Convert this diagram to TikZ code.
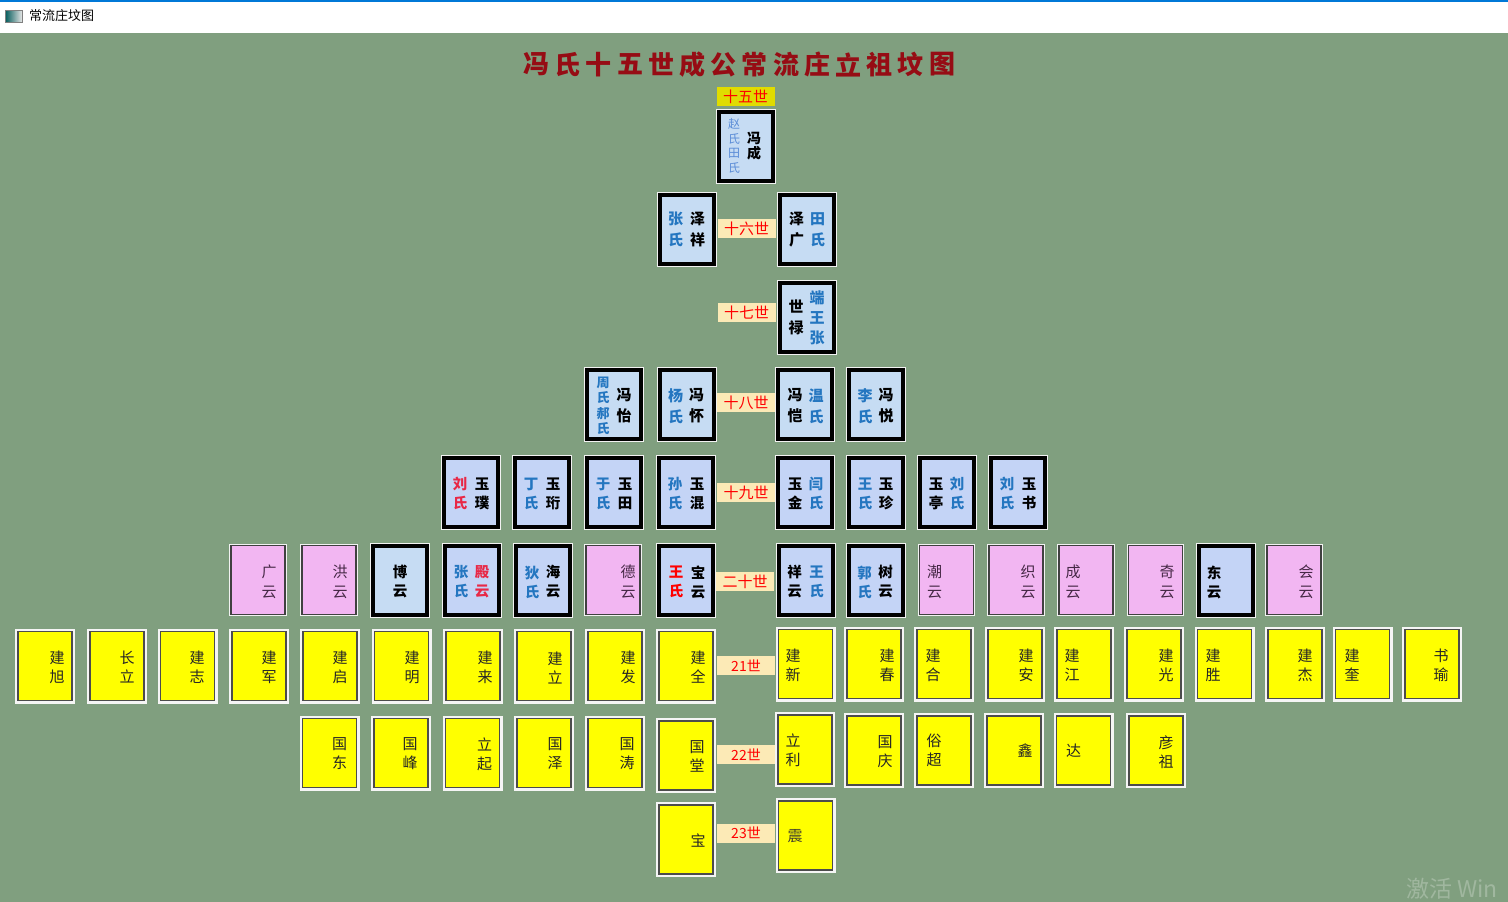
\documentclass[tikz,border=0pt]{standalone}
\usepackage{fontspec}
\newfontfamily\cjk{Noto Sans CJK SC}
\usetikzlibrary{calc}
\definecolor{bg}{RGB}{128,159,127}
\definecolor{barblue}{RGB}{0,120,215}
\definecolor{titlered}{RGB}{150,12,20}
\definecolor{lb}{RGB}{198,220,243}
\definecolor{lb2}{RGB}{196,212,246}
\definecolor{pinkbox}{RGB}{242,182,242}
\definecolor{ybox}{RGB}{255,255,0}
\definecolor{tan}{RGB}{252,234,182}
\definecolor{genyellow}{RGB}{224,220,0}
\definecolor{cblue}{RGB}{36,118,192}
\definecolor{cblue2}{RGB}{90,140,215}
\definecolor{cred}{RGB}{232,40,70}
\definecolor{pinktext}{RGB}{70,40,70}
\begin{document}
\begin{tikzpicture}[x=1pt,y=-1pt,
  box/.style={minimum width=54, minimum height=69, inner sep=0},
  bluebox/.style={box, fill=lb, draw=black, line width=4, preaction={draw=white!90!gray, line width=6}},
  bluebox2/.style={bluebox, fill=lb2},
  pbox/.style={box, fill=pinkbox, draw=black!75, line width=1.2, preaction={draw=white!90!gray, line width=3.5}},
  ybx/.style={box, fill=ybox, draw=black!70, line width=1.5, preaction={draw=white!92!gray, line width=6}},
  gen/.style={fill=tan, text=red, inner sep=0, minimum width=58, minimum height=19, font=\cjk\fontsize{15}{15}\selectfont},
  tb/.style={inner sep=0, align=center, font=\cjk\bfseries\fontsize{15}{21}\selectfont},
  tb19/.style={inner sep=0, align=center, font=\cjk\bfseries\fontsize{14.5}{19}\selectfont},
  tr/.style={inner sep=0, align=center, text=black!85, font=\cjk\fontsize{15}{19}\selectfont},
  tp/.style={inner sep=0, align=center, text=pinktext, font=\cjk\fontsize{15}{20}\selectfont},
  titlech/.style={inner sep=0, text=titlered, font=\cjk\bfseries\fontsize{26}{26}\selectfont}
]
\useasboundingbox (0,0) rectangle (1508,902);
% window
\fill[bg] (0,33) rectangle (1508,902);
\fill[white] (0,0) rectangle (1508,33);
\fill[barblue] (0,0) rectangle (1508,1.5);
\shade[left color=teal!70!black, right color=white!80!gray, draw=gray] (5,10) rectangle (22,22);
\node[anchor=west, inner sep=0, font=\cjk\fontsize{13}{13}\selectfont] (wtitle) at (29,16) {常流庄坟图};
% title
\foreach \c [count=\i from 0] in {冯,氏,十,五,世,成,公,常,流,庄,立,祖,坟,图}
  \node[titlech] (t\i) at (536.5+\i*31.2, 64.5) {\c};
% generation labels
\node[gen, fill=genyellow] (g15) at (745.5,96.5) {十五世};
\node[gen] (g16) at (746.5,228.5) {十六世};
\node[gen] (g17) at (746.5,312.5) {十七世};
\node[gen] (g18) at (746,402.5) {十八世};
\node[gen] (g19) at (746,492.5) {十九世};
\node[gen] (g20) at (745,581.5) {二十世};
\node[gen, font=\cjk\fontsize{14}{14}\selectfont] (g21) at (746,665.5) {21世};
\node[gen, font=\cjk\fontsize{14}{14}\selectfont] (g22) at (746,754.5) {22世};
\node[gen, font=\cjk\fontsize{14}{14}\selectfont] (g23) at (746,833) {23世};
% 15
\node[bluebox] (b15) at (746,146) {};
\node[inner sep=0, align=center, text=cblue2, font=\cjk\fontsize{12}{14.5}\selectfont] at ($(b15)+(-12,0)$) {赵\\氏\\田\\氏};
\node[inner sep=0, align=center, font=\cjk\bfseries\fontsize{14}{15}\selectfont] at ($(b15)+(8,0)$) {冯\\成};
% 16
\node[bluebox] (b16a) at (686.5,229.5) {};
\node[tb, text=cblue] at ($(b16a)+(-11,0)$) {张\\氏};
\node[tb] at ($(b16a)+(11,0)$) {泽\\祥};
\node[bluebox] (b16b) at (806.5,229.5) {};
\node[tb] at ($(b16b)+(-10,0)$) {泽\\广};
\node[tb, text=cblue] at ($(b16b)+(11,0)$) {田\\氏};
% 17
\node[bluebox] (b17) at (806.5,317.5) {};
\node[tb] at ($(b17)+(-10.5,0)$) {世\\禄};
\node[tb, text=cblue, font=\cjk\bfseries\fontsize{15}{20}\selectfont] at ($(b17)+(10.5,0)$) {端\\王\\张};
% 18
\node[bluebox] (b18a) at (614,404) {};
\node[inner sep=0, align=center, text=cblue, font=\cjk\bfseries\fontsize{13}{15.5}\selectfont] at ($(b18a)+(-11,2)$) {周\\氏\\郝\\氏};
\node[tb] at ($(b18a)+(10,2)$) {冯\\怡};
\node[bluebox] (b18b) at (686.5,404) {};
\node[tb, text=cblue] at ($(b18b)+(-11,2)$) {杨\\氏};
\node[tb] at ($(b18b)+(10,2)$) {冯\\怀};
\node[bluebox] (b18c) at (805,404) {};
\node[tb] at ($(b18c)+(-10,2)$) {冯\\恺};
\node[tb, text=cblue] at ($(b18c)+(11,2)$) {温\\氏};
\node[bluebox] (b18d) at (876,404) {};
\node[tb, text=cblue] at ($(b18d)+(-11,2)$) {李\\氏};
\node[tb] at ($(b18d)+(10,2)$) {冯\\悦};
% 19
\node[bluebox2] (b19a) at (471,492) {};
\node[tb19, text=cred] at ($(b19a)+(-11,1.5)$) {刘\\氏};
\node[tb19] at ($(b19a)+(11,1.5)$) {玉\\璞};
\node[bluebox2] (b19b) at (542,492) {};
\node[tb19, text=cblue] at ($(b19b)+(-11,1.5)$) {丁\\氏};
\node[tb19] at ($(b19b)+(11,1.5)$) {玉\\珩};
\node[bluebox2] (b19c) at (614,492) {};
\node[tb19, text=cblue] at ($(b19c)+(-11,1.5)$) {于\\氏};
\node[tb19] at ($(b19c)+(11,1.5)$) {玉\\田};
\node[bluebox2] (b19d) at (686,492) {};
\node[tb19, text=cblue] at ($(b19d)+(-11,1.5)$) {孙\\氏};
\node[tb19] at ($(b19d)+(11,1.5)$) {玉\\混};
\node[bluebox2] (b19e) at (805,492) {};
\node[tb19] at ($(b19e)+(-10,1.5)$) {玉\\金};
\node[tb19, text=cblue] at ($(b19e)+(11,1.5)$) {闫\\氏};
\node[bluebox2] (b19f) at (876,492) {};
\node[tb19, text=cblue] at ($(b19f)+(-11,1.5)$) {王\\氏};
\node[tb19] at ($(b19f)+(10,1.5)$) {玉\\珍};
\node[bluebox2] (b19g) at (947,492) {};
\node[tb19] at ($(b19g)+(-11,1.5)$) {玉\\亭};
\node[tb19, text=cblue] at ($(b19g)+(10,1.5)$) {刘\\氏};
\node[bluebox2] (b19h) at (1018,492) {};
\node[tb19, text=cblue] at ($(b19h)+(-11,1.5)$) {刘\\氏};
\node[tb19] at ($(b19h)+(11,1.5)$) {玉\\书};
% 20
\node[pbox] (b20a) at (258,580) {};
\node[tp] at ($(b20a)+(11,2)$) {广\\云};
\node[pbox] (b20b) at (329,580) {};
\node[tp] at ($(b20b)+(11,2)$) {洪\\云};
\node[bluebox] (b20c) at (400,580) {};
\node[tb19] at ($(b20c)+(0,2)$) {博\\云};
\node[bluebox2] (b20d) at (472,580) {};
\node[tb19, text=cblue] at ($(b20d)+(-11,2)$) {张\\氏};
\node[tb19, text=cred] at ($(b20d)+(10,2)$) {殿\\云};
\node[bluebox2] (b20e) at (543,580) {};
\node[tb19, text=cblue] at ($(b20e)+(-11,2)$) {狄\\氏};
\node[tb19] at ($(b20e)+(10,2)$) {海\\云};
\node[pbox] (b20f) at (613,580) {};
\node[tp] at ($(b20f)+(15,2)$) {德\\云};
\node[bluebox2] (b20g) at (686,580) {};
\node[tb19, text=red] at ($(b20g)+(-10,2)$) {王\\氏};
\node[tb19] at ($(b20g)+(12,2)$) {宝\\云};
\node[bluebox2] (b20h) at (805.5,580) {};
\node[tb19] at ($(b20h)+(-11,2)$) {祥\\云};
\node[tb19, text=cblue] at ($(b20h)+(11,2)$) {王\\氏};
\node[bluebox2] (b20i) at (875.5,580) {};
\node[tb19, text=cblue] at ($(b20i)+(-11,2)$) {郭\\氏};
\node[tb19] at ($(b20i)+(10,2)$) {树\\云};
\node[pbox] (b20j) at (946.5,580) {};
\node[tp] at ($(b20j)+(-12,2)$) {潮\\云};
\node[pbox] (b20k) at (1016,580) {};
\node[tp] at ($(b20k)+(12,2)$) {织\\云};
\node[pbox] (b20l) at (1086,580) {};
\node[tp] at ($(b20l)+(-13,2)$) {成\\云};
\node[pbox] (b20m) at (1155.5,580) {};
\node[tp] at ($(b20m)+(11.5,2)$) {奇\\云};
\node[bluebox2] (b20n) at (1225.5,580) {};
\node[tb19] at ($(b20n)+(-11.5,2)$) {东\\云};
\node[pbox] (b20o) at (1294,580) {};
\node[tp] at ($(b20o)+(12,2)$) {会\\云};
% 21
\node[ybx] (b21a) at (45,666) {};
\node[tr] at ($(b21a)+(12,1.5)$) {建\\旭};
\node[ybx] (b21b) at (117,666) {};
\node[tr] at ($(b21b)+(10,1.5)$) {长\\立};
\node[ybx] (b21c) at (187.5,666) {};
\node[tr] at ($(b21c)+(9.5,1.5)$) {建\\志};
\node[ybx] (b21d) at (259,666) {};
\node[tr] at ($(b21d)+(10,1.5)$) {建\\军};
\node[ybx] (b21e) at (330,666) {};
\node[tr] at ($(b21e)+(10,1.5)$) {建\\启};
\node[ybx] (b21f) at (401.5,666) {};
\node[tr] at ($(b21f)+(10.5,1.5)$) {建\\明};
\node[ybx] (b21g) at (473,666) {};
\node[tr] at ($(b21g)+(12,1.5)$) {建\\来};
\node[ybx] (b21h) at (544,666) {};
\node[tr] at ($(b21h)+(11,1.5)$) {建\\立};
\node[ybx] (b21i) at (615,666) {};
\node[tr] at ($(b21i)+(13,1.5)$) {建\\发};
\node[ybx] (b21j) at (686,666) {};
\node[tr] at ($(b21j)+(12,1.5)$) {建\\全};
\node[ybx] (b21k) at (805.5,664) {};
\node[tr] at ($(b21k)+(-12.5,1)$) {建\\新};
\node[ybx] (b21l) at (874,664) {};
\node[tr] at ($(b21l)+(13,1)$) {建\\春};
\node[ybx] (b21m) at (944,664) {};
\node[tr] at ($(b21m)+(-11,1)$) {建\\合};
\node[ybx] (b21n) at (1015,664) {};
\node[tr] at ($(b21n)+(11,1)$) {建\\安};
\node[ybx] (b21o) at (1084,664) {};
\node[tr] at ($(b21o)+(-12,1)$) {建\\江};
\node[ybx] (b21p) at (1154,664) {};
\node[tr] at ($(b21p)+(12,1)$) {建\\光};
\node[ybx] (b21q) at (1224.5,664) {};
\node[tr] at ($(b21q)+(-11.5,1)$) {建\\胜};
\node[ybx] (b21r) at (1295,664) {};
\node[tr] at ($(b21r)+(10,1)$) {建\\杰};
\node[ybx] (b21s) at (1362.5,664) {};
\node[tr] at ($(b21s)+(-10.5,1)$) {建\\奎};
\node[ybx] (b21t) at (1432,664) {};
\node[tr] at ($(b21t)+(9,1)$) {书\\瑜};
% 22
\node[ybx] (b22a) at (329.5,753) {};
\node[tr] at ($(b22a)+(10,1)$) {国\\东};
\node[ybx] (b22b) at (401,753) {};
\node[tr] at ($(b22b)+(9,1)$) {国\\峰};
\node[ybx] (b22c) at (472.5,753) {};
\node[tr] at ($(b22c)+(12,1)$) {立\\起};
\node[ybx] (b22d) at (544,753) {};
\node[tr] at ($(b22d)+(11,1)$) {国\\泽};
\node[ybx] (b22e) at (615,753) {};
\node[tr] at ($(b22e)+(12,1)$) {国\\涛};
\node[ybx] (b22f) at (686,755.5) {};
\node[tr] at ($(b22f)+(11,1)$) {国\\堂};
\node[ybx] (b22g) at (805,749.5) {};
\node[tr] at ($(b22g)+(-12,1)$) {立\\利};
\node[ybx] (b22h) at (874,750.5) {};
\node[tr] at ($(b22h)+(11,1)$) {国\\庆};
\node[ybx] (b22i) at (944,750.5) {};
\node[tr] at ($(b22i)+(-10,0)$) {俗\\超};
\node[ybx] (b22j) at (1014,750.5) {};
\node[tr] at ($(b22j)+(11,0)$) {鑫};
\node[ybx] (b22k) at (1083.5,750.5) {};
\node[tr] at ($(b22k)+(-10,0)$) {达};
\node[ybx] (b22l) at (1156,750.5) {};
\node[tr] at ($(b22l)+(10,2)$) {彦\\祖};
% 23
\node[ybx] (b23a) at (686,839.5) {};
\node[tr] at ($(b23a)+(12,1)$) {宝};
\node[ybx] (b23b) at (805.5,835.5) {};
\node[tr, text=black!70!olive] at ($(b23b)+(-10.5,0.5)$) {震};
% watermark
\node[anchor=west, inner sep=0, text=bg!75!white, font=\cjk\fontsize{23}{23}\selectfont] (wm) at (1406,889) {激活 Win};
\end{tikzpicture}
\end{document}
